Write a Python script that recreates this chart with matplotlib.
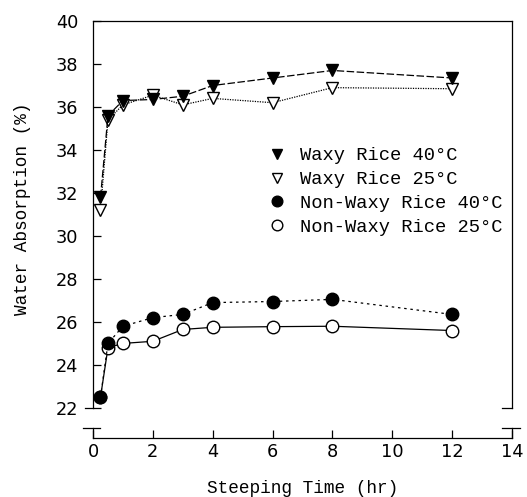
import matplotlib
matplotlib.use("Agg")
import matplotlib.pyplot as plt

# steeping time (hr)
time_hr = [0.25, 0.5, 1, 2, 3, 4, 6, 8, 12]

# water absorption (%)
waxy_40 = [31.8, 35.6, 36.3, 36.35, 36.5, 37.0, 37.35, 37.7, 37.35]
waxy_25 = [31.2, 35.4, 36.1, 36.55, 36.1, 36.4, 36.2, 36.9, 36.85]
nonwaxy_40 = [22.5, 25.0, 25.8, 26.2, 26.35, 26.9, 26.95, 27.05, 26.35]
nonwaxy_25 = [22.5, 24.8, 25.0, 25.1, 25.65, 25.75, 25.78, 25.8, 25.6]

x_ticks = [0, 2, 4, 6, 8, 10, 12, 14]
y_ticks = [22, 24, 26, 28, 30, 32, 34, 36, 38, 40]

mono = "Liberation Mono"

fig = plt.figure(figsize=(5.27, 4.97), dpi=100, facecolor="white")
ax = fig.add_axes([0.1765, 0.1187, 0.795, 0.839])

lw = 0.9
ms = 9
ax.plot(time_hr, waxy_40, color="black", lw=lw, dashes=(6, 2),
        marker="v", ms=ms, mfc="black", mec="black", label="Waxy Rice 40°C", zorder=4)
ax.plot(time_hr, waxy_25, color="black", lw=lw, dashes=(1, 1),
        marker="v", ms=ms, mfc="white", mec="black", mew=1.0, label="Waxy Rice 25°C", zorder=3)
ax.plot(time_hr, nonwaxy_40, color="black", lw=lw, dashes=(2, 3),
        marker="o", ms=ms, mfc="black", mec="black", label="Non-Waxy Rice 40°C", zorder=4)
ax.plot(time_hr, nonwaxy_25, color="black", lw=lw, linestyle="-",
        marker="o", ms=ms, mfc="white", mec="black", mew=1.0, label="Non-Waxy Rice 25°C", zorder=3)

ax.set_xlim(0, 14)
ax.set_ylim(20.6, 40)
ax.set_xticks(x_ticks)
ax.set_yticks(y_ticks)
ax.tick_params(direction="in", length=6, width=0.9, labelsize=12.8,
               top=False, right=False)
ax.tick_params(axis="y", pad=10.5)
ax.tick_params(axis="x", pad=3.5)
for lab in ax.get_xticklabels() + ax.get_yticklabels():
    lab.set_family("DejaVu Sans")

for side in ["left", "right", "top", "bottom"]:
    ax.spines[side].set_linewidth(0.9)
ax.spines["left"].set_bounds(22, 40)
ax.spines["right"].set_bounds(22, 40)

# axis break marks
brk = dict(color="black", lw=0.9, clip_on=False)
ax.plot([-0.27, 0.0], [22, 22], **brk)
ax.plot([-0.33, 0.23], [21.07, 21.07], **brk)
ax.plot([0, 0], [21.07, 20.6], **brk)
ax.plot([13.67, 14.0], [22, 22], **brk)
ax.plot([13.67, 14.27], [21.07, 21.07], **brk)
ax.plot([14, 14], [21.07, 20.6], **brk)

ax.set_xlabel("Steeping Time (hr)", fontfamily=mono, fontsize=12.8, labelpad=14)
ax.set_ylabel("Water Absorption (%)", fontfamily=mono, fontsize=12.8)
ax.yaxis.set_label_coords(-0.147, 0.55)

leg = ax.legend(loc="upper left", bbox_to_anchor=(0.417, 0.697), frameon=False,
                prop={"family": mono, "size": 13.5}, handlelength=1.0,
                handletextpad=0.73, labelspacing=0.35, borderpad=0, borderaxespad=0,
                markerscale=0.85)
for h in leg.get_lines():
    h.set_linestyle("none")

fig.savefig("out.png", dpi=100, facecolor="white")
